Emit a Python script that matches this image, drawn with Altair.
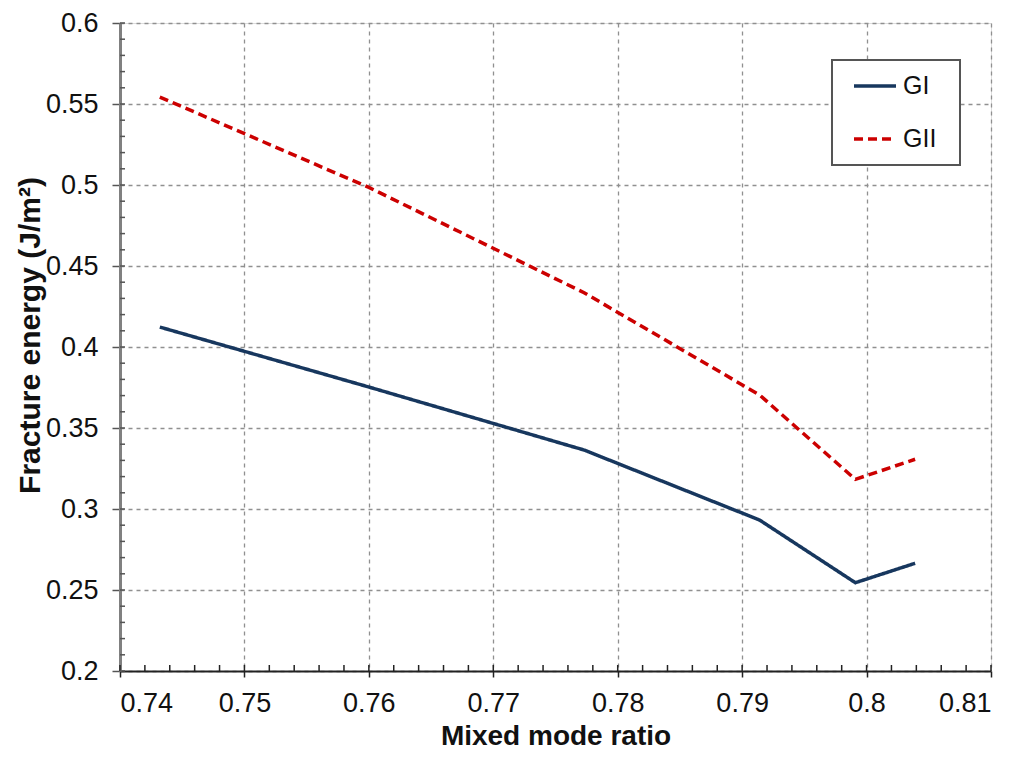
import altair as alt
import pandas as pd

# Data
ratio = [0.7432, 0.7600, 0.7773, 0.7914, 0.7991, 0.8039]
gi = [0.4123, 0.3753, 0.3364, 0.2932, 0.2545, 0.2665]
gii = [0.5543, 0.4985, 0.4335, 0.3704, 0.3183, 0.3307]

x_major = [0.74, 0.75, 0.76, 0.77, 0.78, 0.79, 0.80, 0.81]
y_major = [0.2, 0.25, 0.3, 0.35, 0.4, 0.45, 0.5, 0.55, 0.6]
x_minor = [round(0.74 + i * 0.002, 3) for i in range(36)]
y_minor = [round(0.2 + i * 0.01, 2) for i in range(41)]

rows = []
for r, a, b in zip(ratio, gi, gii):
    rows.append({"ratio": r, "energy": a, "series": "GI"})
    rows.append({"ratio": r, "energy": b, "series": "GII"})
df = pd.DataFrame(rows)
df_xminor = pd.DataFrame({"ratio": x_minor})
df_yminor = pd.DataFrame({"energy": y_minor})

W, H = 871, 648
FONT = "Liberation Sans"

xscale = alt.Scale(domain=[0.74, 0.81], nice=False, zero=False)
yscale = alt.Scale(domain=[0.2, 0.6], nice=False, zero=False)

legend_kw = dict(title=None, orient="none", legendX=732, legendY=40,
                 symbolType="stroke", symbolSize=1764, symbolStrokeWidth=3.5,
                 labelFontSize=25, labelFont=FONT, labelColor="#111",
                 labelOffset=5, rowPadding=17, padding=0)

lines = alt.Chart(df).mark_line(strokeWidth=3.5).encode(
    x=alt.X("ratio:Q", scale=xscale,
            axis=alt.Axis(values=x_major, format=".2~f", title="Mixed mode ratio",
                          titleFontSize=28, titleFontWeight="bold", titleFont=FONT,
                          titleColor="#111", titlePadding=6,
                          labelFontSize=27, labelFont=FONT, labelColor="#111",
                          labelPadding=13, tickSize=6, tickColor="#222", tickWidth=1.5,
                          domainColor="#222", domainWidth=2,
                          grid=True, gridColor="#909090", gridDash=[4, 4], gridWidth=1.3)),
    y=alt.Y("energy:Q", scale=yscale,
            axis=alt.Axis(values=y_major, format=".2~f", title="Fracture energy (J/m²)",
                          titleFontSize=30, titleFontWeight="bold", titleFont=FONT,
                          titleColor="#111", titlePadding=0, titleY=312,
                          labelFontSize=27, labelFont=FONT, labelColor="#111",
                          labelPadding=14, tickSize=8, tickColor="#555", tickWidth=1.5,
                          domainColor="#808080", domainWidth=3,
                          grid=True, gridColor="#909090", gridDash=[4, 4], gridWidth=1.3)),
    color=alt.Color("series:N",
                    scale=alt.Scale(domain=["GI", "GII"], range=["#17375E", "#CC0000"]),
                    legend=alt.Legend(**legend_kw)),
    strokeDash=alt.StrokeDash("series:N",
                              scale=alt.Scale(domain=["GI", "GII"], range=[[1, 0], [9, 5]]),
                              legend=alt.Legend(**legend_kw)),
)

# legend frame (decoration)
frame = alt.Chart(pd.DataFrame({"k": [0]})).mark_rect(
    fill="white", stroke="#555", strokeWidth=2
).encode(x=alt.value(712), x2=alt.value(840), y=alt.value(37), y2=alt.value(142))

# inward minor ticks
xticks = alt.Chart(df_xminor).mark_rule(color="#222", strokeWidth=1.5).encode(
    x=alt.X("ratio:Q", scale=xscale), y=alt.value(H), y2=alt.value(H - 6))
yticks = alt.Chart(df_yminor).mark_rule(color="#555", strokeWidth=1.5).encode(
    y=alt.Y("energy:Q", scale=yscale), x=alt.value(0), x2=alt.value(5))

chart = alt.layer(lines, xticks, yticks, frame).properties(
    width=W, height=H,
    autosize=alt.AutoSizeParams(type="none"),
    padding={"left": 112, "top": 15, "right": 25, "bottom": 85},
).configure_view(stroke="#808080", strokeWidth=2).configure(background="white")

chart.save("out.html", embed_options={"renderer": "svg", "actions": False})
